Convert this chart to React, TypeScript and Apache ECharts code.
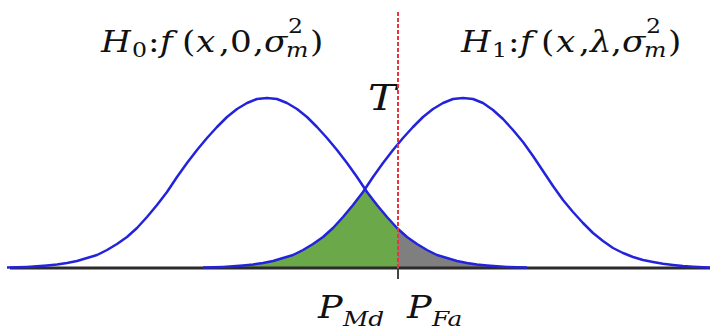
import React, { useEffect, useRef } from "react";
import * as echarts from "echarts";

// H0 curve: x positions (px scale of the figure) and heights above the baseline
const h0X = [7, 17, 27, 37, 47, 57, 67, 77, 87, 97, 107, 117, 127, 137, 147, 157, 167, 177, 187, 197, 207, 217, 227, 237, 247, 257, 267, 277, 287, 297, 307, 317, 327, 337, 347, 357, 367, 377, 387, 397, 407, 417, 427, 437, 447, 457, 467, 477, 487, 497, 507, 517, 527];
const h0Y = [0.4, 0.7, 1.1, 1.7, 2.5, 3.5, 5, 7, 10, 13, 18, 24, 31, 40, 51, 63, 76, 91, 105, 118, 130, 141, 151, 159, 165, 169, 170, 169, 165, 159, 151, 141, 130, 118, 105, 91, 76, 63, 51, 40, 31, 24, 18, 13, 10, 7, 5, 3.5, 2.5, 1.7, 1.1, 0.7, 0.4];

// H1 curve
const h1X = [203, 213, 223, 233, 243, 253, 263, 273, 283, 293, 303, 313, 323, 333, 343, 353, 363, 373, 383, 393, 403, 413, 423, 433, 443, 453, 463, 473, 483, 493, 503, 513, 523, 533, 543, 553, 563, 573, 583, 593, 603, 613, 623, 633, 643, 653, 663, 673, 683, 693, 703, 713];
const h1Y = [0.4, 0.7, 1.1, 1.7, 2.5, 3.5, 5, 7, 10, 13, 18, 24, 31, 40, 51, 63, 76, 91, 105, 118, 130, 141, 151, 159, 165, 169, 170, 169, 165, 158, 149, 138, 126, 112, 97, 82, 68, 56, 45, 35, 27, 20, 15, 11, 8, 6, 4.2, 3, 2, 1.3, 0.8, 0.5];

const thresholdX = 398;
const crossing = [365, 79];
const h0AtThreshold = 39;
const thresholdTop = 256;
const baselineRange = [10, 710];

const zip = (xs: number[], ys: number[]) => xs.map((x, i) => [x, ys[i]]);

const FONT = '"DejaVu Serif", "Liberation Serif", serif';

type Glyph = [string, number, number, number, boolean];

// [text, x, y(middle), size, italic]
const glyphs: Glyph[] = [
  // H0 label
  ["H", 101, 42, 29, true],
  ["0", 132, 50, 20, false],
  [":", 148, 42, 29, false],
  ["f", 160, 42, 29, true],
  ["(", 182, 42, 29, false],
  ["x", 196, 42, 29, true],
  [",", 219, 42, 29, false],
  ["0", 230, 42, 29, false],
  [",", 253, 42, 29, false],
  ["σ", 264, 42, 29, true],
  ["2", 288, 26, 20, false],
  ["m", 286, 50, 20, true],
  [")", 310, 42, 29, false],
  // H1 label
  ["H", 461, 42, 29, true],
  ["1", 492, 50, 20, false],
  [":", 508, 42, 29, false],
  ["f", 520, 42, 29, true],
  ["(", 541, 42, 29, false],
  ["x", 556, 42, 29, true],
  [",", 579, 42, 29, false],
  ["λ", 590, 42, 29, true],
  [",", 611, 42, 29, false],
  ["σ", 622, 42, 29, true],
  ["2", 646, 26, 20, false],
  ["m", 644, 50, 20, true],
  [")", 668, 42, 29, false],
  // threshold
  ["T", 368, 97, 36, true],
  // probabilities
  ["P", 318, 307, 31, true],
  ["Md", 343, 319, 21, true],
  ["P", 407, 307, 31, true],
  ["Fa", 432, 319, 21, true],
];

export default function App() {
  const ref = useRef<HTMLDivElement>(null);

  useEffect(() => {
    if (!ref.current) return;
    const chart = echarts.init(ref.current, undefined, { renderer: "svg" });

    const h0 = zip(h0X, h0Y);
    const h1 = zip(h1X, h1Y);
    const green = [
      ...h1.filter((p) => p[0] < crossing[0]),
      crossing,
      ...h0.filter((p) => p[0] > crossing[0] && p[0] < thresholdX),
      [thresholdX, h0AtThreshold],
    ];
    const gray = [[thresholdX, h0AtThreshold], ...h0.filter((p) => p[0] > thresholdX)];

    const lineBase = {
      type: "line" as const,
      symbol: "none",
      silent: true,
      clip: false,
    };

    chart.setOption({
      animation: false,
      grid: { left: 0, right: 0, top: 0, bottom: 65 },
      xAxis: { type: "value", min: 0, max: 710, show: false },
      yAxis: { type: "value", min: 0, max: 268, show: false },
      series: [
        {
          ...lineBase,
          data: green,
          z: 1,
          lineStyle: { width: 0 },
          areaStyle: { color: "#6aa84a", opacity: 1 },
        },
        {
          ...lineBase,
          data: gray,
          z: 1,
          lineStyle: { width: 0 },
          areaStyle: { color: "#7f7f7f", opacity: 1 },
        },
        {
          ...lineBase,
          data: [
            [baselineRange[0], 0],
            [baselineRange[1], 0],
          ],
          z: 2,
          lineStyle: { color: "#2b2b2b", width: 3 },
        },
        {
          ...lineBase,
          data: [
            [thresholdX, 0],
            [thresholdX, -11],
          ],
          z: 2,
          lineStyle: { color: "#444", width: 2 },
        },
        {
          ...lineBase,
          data: h0,
          z: 3,
          lineStyle: { color: "#2323dc", width: 2.5, join: "round" },
        },
        {
          ...lineBase,
          data: h1,
          z: 3,
          lineStyle: { color: "#2323dc", width: 2.5, join: "round" },
        },
        {
          ...lineBase,
          data: [
            [thresholdX, 0],
            [thresholdX, thresholdTop],
          ],
          z: 4,
          lineStyle: { color: "#e8353f", width: 2, type: [4, 2] },
        },
      ],
      graphic: glyphs.map(([text, x, y, size, italic]) => ({
        type: "text",
        x,
        y,
        scaleX: 1.18,
        silent: true,
        style: {
          text,
          font: `${italic ? "italic " : ""}${size}px ${FONT}`,
          fill: "#111",
          textAlign: "left",
          textVerticalAlign: "middle",
        },
      })),
    });

    return () => chart.dispose();
  }, []);

  return (
    <div
      ref={ref}
      style={{ position: "fixed", left: 0, top: 0, width: 710, height: 333, background: "#fff" }}
    />
  );
}
